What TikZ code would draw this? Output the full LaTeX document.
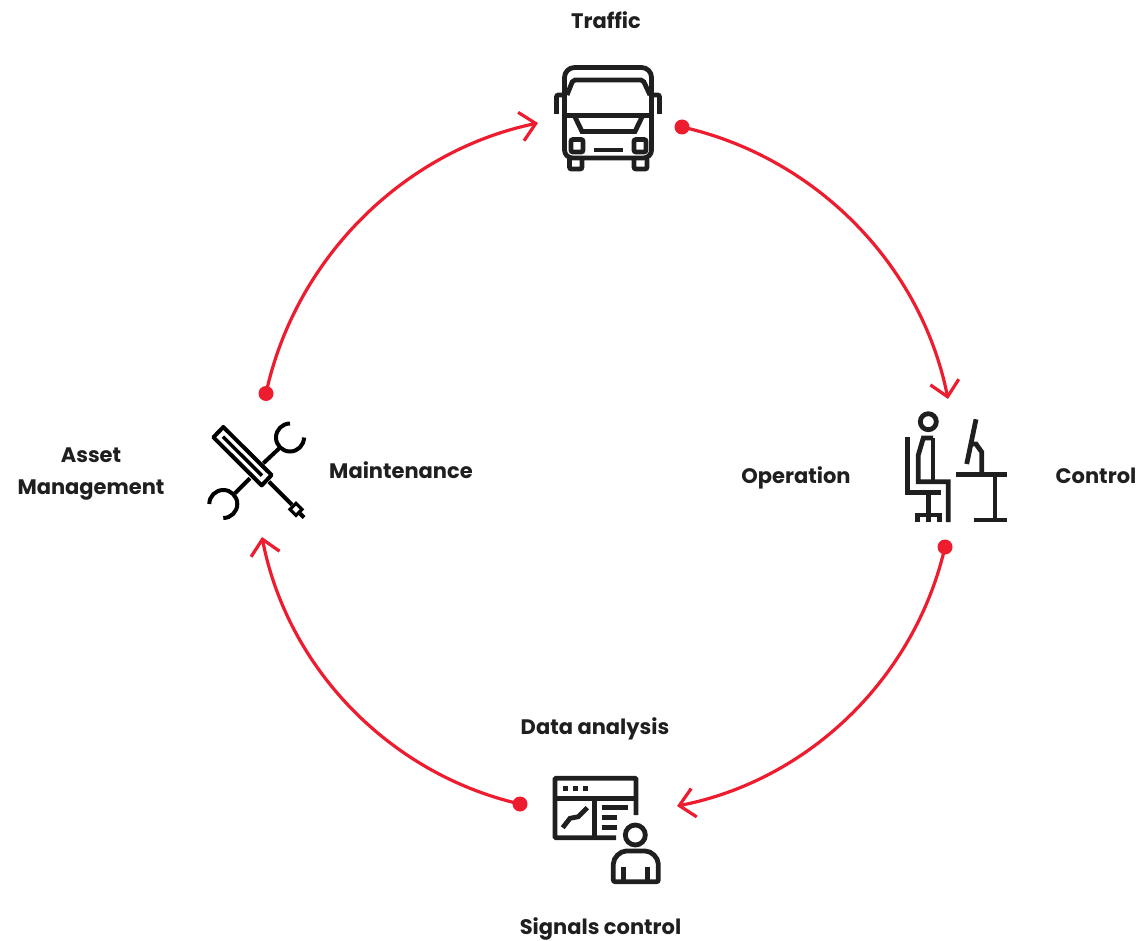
\documentclass[tikz,border=0pt]{standalone}
\usepackage{fontspec}
\setmainfont{Poppins}
\usetikzlibrary{arrows.meta}
\definecolor{flowred}{HTML}{ED1C2E}
\definecolor{inkgray}{HTML}{1F1F1F}
\tikzset{
  label/.style={text=inkgray,font=\fontsize{21}{32}\selectfont\bfseries,align=center},
  flow/.style={draw=flowred,line width=3.2pt,-{Straight Barb[length=15pt,width=29pt,line width=3.2pt]}},
  dot/.style={circle,fill=flowred,inner sep=0pt,minimum size=15pt},
  icon/.style={draw=inkgray,line width=4.8pt},
  thin icon/.style={draw=black,line width=4pt}
}
\begin{document}
\begin{tikzpicture}[x=1pt,y=-1pt]
  \useasboundingbox (0,0) rectangle (1139,941);
  % labels
  \node[label] (traffic) at (606,20.5) {Traffic};
  \node[label] (data) at (595,729) {Data analysis};
  \node[label] (signals) at (600.5,928.5) {Signals control};
  \node[label] (asset) at (91,474) {Asset\\Management};
  \node[label] (maint) at (401,470.5) {Maintenance};
  \node[label] (oper) at (796,477.5) {Operation};
  \node[label] (control) at (1096,476) {Control};
  % ring
  \node[dot] (dottop) at (682,127) {};
  \node[dot] (dotright) at (945,547) {};
  \node[dot] (dotbottom) at (520,804) {};
  \node[dot] (dotleft) at (266,393.5) {};
  \coordinate (tipright) at (948,399);
  \coordinate (tipbottom) at (677,806);
  \coordinate (tipleft) at (262,537);
  \coordinate (tiptop) at (538,123);
  \begin{scope}[looseness=0.92]
    \draw[flow] (dottop.center) to[bend left=33] (tipright);
    \draw[flow] (dotright.center) to[bend left=33] (tipbottom);
    \draw[flow] (dotbottom.center) to[bend left=33] (tipleft);
    \draw[flow] (dotleft.center) to[bend left=33] (tiptop);
  \end{scope}
  % bus
  \begin{scope}[icon/.append style={line join=miter}]
    \draw[icon,rounded corners=8pt] (564.5,115.7) -- (564.5,158) -- (651.5,158) -- (651.5,115.7);
    \draw[icon,rounded corners=10pt] (564.5,116) -- (564.5,67.5) -- (651.5,67.5) -- (651.5,116);
    \draw[icon,rounded corners=2pt] (567,95) -- (573,80) -- (643,80) -- (650,95);
    \draw[icon] (564,115.7) -- (652,115.7);
    \draw[icon] (575,117) -- (582,131.5) -- (635,131.5) -- (642,117);
    \draw[icon,rounded corners=2pt] (571,139.5) rectangle (583,152);
    \draw[icon,rounded corners=2pt] (634,139.5) rectangle (646,152);
    \draw[icon] (594,150) -- (623,150);
    \draw[icon,rounded corners=2pt] (569.5,159) -- (569.5,169) -- (582,169) -- (582,159);
    \draw[icon,rounded corners=2pt] (634,159) -- (634,169) -- (647,169) -- (647,159);
    \draw[icon,rounded corners=2pt] (556.5,114) -- (556.5,95) -- (564,95);
    \draw[icon,rounded corners=2pt] (659.5,114) -- (659.5,95) -- (652,95);
  \end{scope}
  % desk
  \draw[icon] (928.3,421.7) circle (8pt);
  \draw[icon] (907.7,437) -- (907.7,492.7) -- (940.7,492.7);
  \draw[icon] (933,438) -- (933,481);
  \draw[icon] (933,438) -- (923.3,438) -- (918.3,455) -- (918.3,481.7) -- (948.3,481.7) -- (948.3,522);
  \draw[icon] (928.3,493) -- (928.3,522);
  \draw[icon] (917.3,522) -- (917.3,515) -- (939.3,515) -- (939.3,522);
  \draw[icon] (976,419.3) -- (966.7,464);
  \draw[icon] (972,444) -- (976,444) -- (981.7,452) -- (981.7,474);
  \draw[icon] (956,474.7) -- (1006.7,474.7);
  \draw[icon] (995,474.7) -- (995,520);
  \draw[icon] (974,520) -- (1006.7,520);
  % tools
  \draw[thin icon,line join=round] (223.3,427) -- (271.6,475) -- (261.7,485.4) -- (213.4,437.3) -- cycle;
  \draw[thin icon,line width=3.4pt] (223,436.7) -- (262,475.6);
  \draw[thin icon] (269,481.7) -- (292,504.8);
  \draw[thin icon,line width=3.2pt] (296,503.3) -- (302,509.3) -- (296,515.3) -- (290,509.3) -- cycle;
  \draw[thin icon] (300,513.5) -- (304,517.5);
  \draw[thin icon] (263.3,463.3) -- (281,446.7);
  \draw[thin icon] (290,423.5) arc[start angle=90,end angle=360,radius=14pt];
  \draw[thin icon] (250,478.3) -- (235,493.3);
  \draw[thin icon] (209.3,504) arc[start angle=180,end angle=-90,radius=14pt];
  % analysis
  \draw[icon,rounded corners=1pt] (616,837.7) -- (555,837.7) -- (555,778.3) -- (636,778.3) -- (636,815);
  \draw[icon] (555,798.3) -- (636,798.3);
  \draw[icon] (594.3,798.3) -- (594.3,837.7);
  \foreach \x in {565,575,585}
    \fill[inkgray] (\x-2.5,785.8) rectangle (\x+2.5,790.8);
  \draw[icon] (562.7,827.7) -- (570,818.3) -- (578.3,816.7) -- (587.3,807.7);
  \draw[icon] (601.7,807.7) -- (628.3,807.7);
  \draw[icon] (601.7,817.7) -- (616.7,817.7);
  \draw[icon] (601.7,827.7) -- (616.7,827.7);
  \draw[icon] (635.3,835) circle (10pt);
  \draw[icon,rounded corners=2pt] (613.3,866) arc[start angle=180,end angle=90,radius=15pt] -- (643.3,851) arc[start angle=90,end angle=0,radius=15pt] -- (658.3,881.7) -- (613.3,881.7) -- cycle;
  \draw[icon] (623.3,866.7) -- (623.3,881.7);
  \draw[icon] (647.7,866.7) -- (647.7,881.7);
\end{tikzpicture}
\end{document}
